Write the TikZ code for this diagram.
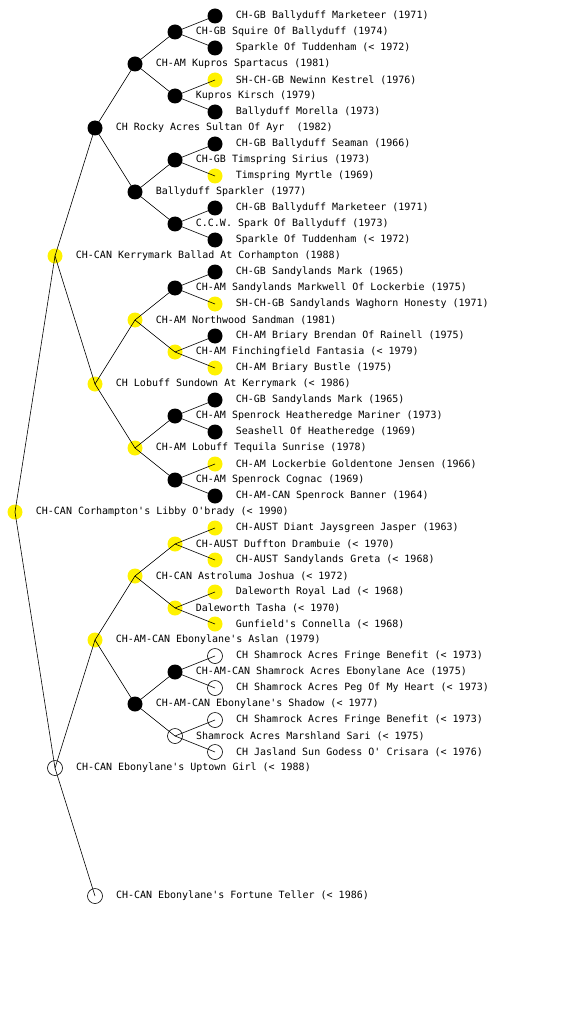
\documentclass[tikz,border=0pt]{standalone}
\usepackage{fontspec}
\setmonofont{DejaVu Sans Mono}
\usepackage{tikz}
\usetikzlibrary{positioning}

\begin{document}
\begin{tikzpicture}[x=1pt, y=-1pt, label distance=13pt,
  dot/.style={circle, minimum size=15pt, inner sep=0pt},
  yel/.style={dot, fill=yellow},
  blk/.style={dot, fill=black},
  wht/.style={dot, draw=black, fill=white, line width=0.6pt},
  lbl/.style={font=\ttfamily\fontsize{10}{12}\selectfont, inner sep=0pt},
  edge/.style={draw=black, line width=0.6pt}]
  \useasboundingbox (0,0) rectangle (560,1024);

  % root and first generation
  \node[yel, label={[lbl]right:{CH-CAN Corhampton's Libby O'brady (< 1990)}}] (n512) at (15,512) {};
  \node[yel, label={[lbl]right:{CH-CAN Kerrymark Ballad At Corhampton (1988)}}] (n256) at (55,256) {};
  \node[wht, label={[lbl]right:{CH-CAN Ebonylane's Uptown Girl (< 1988)}}] (n768) at (55,768) {};

  % second generation
  \node[blk, label={[lbl]right:{CH Rocky Acres Sultan Of Ayr\ \ (1982)}}] (n128) at (95,128) {};
  \node[yel, label={[lbl]right:{CH Lobuff Sundown At Kerrymark (< 1986)}}] (n384) at (95,384) {};
  \node[yel, label={[lbl]right:{CH-AM-CAN Ebonylane's Aslan (1979)}}] (n640) at (95,640) {};
  \node[wht, label={[lbl]right:{CH-CAN Ebonylane's Fortune Teller (< 1986)}}] (n896) at (95,896) {};

  % third generation
  \node[blk, label={[lbl]right:{CH-AM Kupros Spartacus (1981)}}] (n64) at (135,64) {};
  \node[blk, label={[lbl]right:{Ballyduff Sparkler (1977)}}] (n192) at (135,192) {};
  \node[yel, label={[lbl]right:{CH-AM Northwood Sandman (1981)}}] (n320) at (135,320) {};
  \node[yel, label={[lbl]right:{CH-AM Lobuff Tequila Sunrise (1978)}}] (n448) at (135,448) {};
  \node[yel, label={[lbl]right:{CH-CAN Astroluma Joshua (< 1972)}}] (n576) at (135,576) {};
  \node[blk, label={[lbl]right:{CH-AM-CAN Ebonylane's Shadow (< 1977)}}] (n704) at (135,704) {};

  % fourth generation
  \node[blk, label={[lbl]right:{CH-GB Squire Of Ballyduff (1974)}}] (n32) at (175,32) {};
  \node[blk, label={[lbl]right:{Kupros Kirsch (1979)}}] (n96) at (175,96) {};
  \node[blk, label={[lbl]right:{CH-GB Timspring Sirius (1973)}}] (n160) at (175,160) {};
  \node[blk, label={[lbl]right:{C.C.W. Spark Of Ballyduff (1973)}}] (n224) at (175,224) {};
  \node[blk, label={[lbl]right:{CH-AM Sandylands Markwell Of Lockerbie (1975)}}] (n288) at (175,288) {};
  \node[yel, label={[lbl]right:{CH-AM Finchingfield Fantasia (< 1979)}}] (n352) at (175,352) {};
  \node[blk, label={[lbl]right:{CH-AM Spenrock Heatheredge Mariner (1973)}}] (n416) at (175,416) {};
  \node[blk, label={[lbl]right:{CH-AM Spenrock Cognac (1969)}}] (n480) at (175,480) {};
  \node[yel, label={[lbl]right:{CH-AUST Duffton Drambuie (< 1970)}}] (n544) at (175,544) {};
  \node[yel, label={[lbl]right:{Daleworth Tasha (< 1970)}}] (n608) at (175,608) {};
  \node[blk, label={[lbl]right:{CH-AM-CAN Shamrock Acres Ebonylane Ace (1975)}}] (n672) at (175,672) {};
  \node[wht, label={[lbl]right:{Shamrock Acres Marshland Sari (< 1975)}}] (n736) at (175,736) {};

  % fifth generation
  \node[blk, label={[lbl]right:{CH-GB Ballyduff Marketeer (1971)}}] (n16) at (215,16) {};
  \node[blk, label={[lbl]right:{Sparkle Of Tuddenham (< 1972)}}] (n48) at (215,48) {};
  \node[yel, label={[lbl]right:{SH-CH-GB Newinn Kestrel (1976)}}] (n80) at (215,80) {};
  \node[blk, label={[lbl]right:{Ballyduff Morella (1973)}}] (n112) at (215,112) {};
  \node[blk, label={[lbl]right:{CH-GB Ballyduff Seaman (1966)}}] (n144) at (215,144) {};
  \node[yel, label={[lbl]right:{Timspring Myrtle (1969)}}] (n176) at (215,176) {};
  \node[blk, label={[lbl]right:{CH-GB Ballyduff Marketeer (1971)}}] (n208) at (215,208) {};
  \node[blk, label={[lbl]right:{Sparkle Of Tuddenham (< 1972)}}] (n240) at (215,240) {};
  \node[blk, label={[lbl]right:{CH-GB Sandylands Mark (1965)}}] (n272) at (215,272) {};
  \node[yel, label={[lbl]right:{SH-CH-GB Sandylands Waghorn Honesty (1971)}}] (n304) at (215,304) {};
  \node[blk, label={[lbl]right:{CH-AM Briary Brendan Of Rainell (1975)}}] (n336) at (215,336) {};
  \node[yel, label={[lbl]right:{CH-AM Briary Bustle (1975)}}] (n368) at (215,368) {};
  \node[blk, label={[lbl]right:{CH-GB Sandylands Mark (1965)}}] (n400) at (215,400) {};
  \node[blk, label={[lbl]right:{Seashell Of Heatheredge (1969)}}] (n432) at (215,432) {};
  \node[yel, label={[lbl]right:{CH-AM Lockerbie Goldentone Jensen (1966)}}] (n464) at (215,464) {};
  \node[blk, label={[lbl]right:{CH-AM-CAN Spenrock Banner (1964)}}] (n496) at (215,496) {};
  \node[yel, label={[lbl]right:{CH-AUST Diant Jaysgreen Jasper (1963)}}] (n528) at (215,528) {};
  \node[yel, label={[lbl]right:{CH-AUST Sandylands Greta (< 1968)}}] (n560) at (215,560) {};
  \node[yel, label={[lbl]right:{Daleworth Royal Lad (< 1968)}}] (n592) at (215,592) {};
  \node[yel, label={[lbl]right:{Gunfield's Connella (< 1968)}}] (n624) at (215,624) {};
  \node[wht, label={[lbl]right:{CH Shamrock Acres Fringe Benefit (< 1973)}}] (n656) at (215,656) {};
  \node[wht, label={[lbl]right:{CH Shamrock Acres Peg Of My Heart (< 1973)}}] (n688) at (215,688) {};
  \node[wht, label={[lbl]right:{CH Shamrock Acres Fringe Benefit (< 1973)}}] (n720) at (215,720) {};
  \node[wht, label={[lbl]right:{CH Jasland Sun Godess O' Crisara (< 1976)}}] (n752) at (215,752) {};

  % child to parent lines
  \foreach \c/\p in {512/256, 512/768, 256/128, 256/384, 768/640, 768/896,
      128/64, 128/192, 384/320, 384/448, 640/576, 640/704,
      64/32, 64/96, 192/160, 192/224, 320/288, 320/352, 448/416, 448/480,
      576/544, 576/608, 704/672, 704/736,
      32/16, 32/48, 96/80, 96/112, 160/144, 160/176, 224/208, 224/240,
      288/272, 288/304, 352/336, 352/368, 416/400, 416/432, 480/464, 480/496,
      544/528, 544/560, 608/592, 608/624, 672/656, 672/688, 736/720, 736/752}
    \draw[edge] (n\c.center) -- (n\p.center);
\end{tikzpicture}
\end{document}
